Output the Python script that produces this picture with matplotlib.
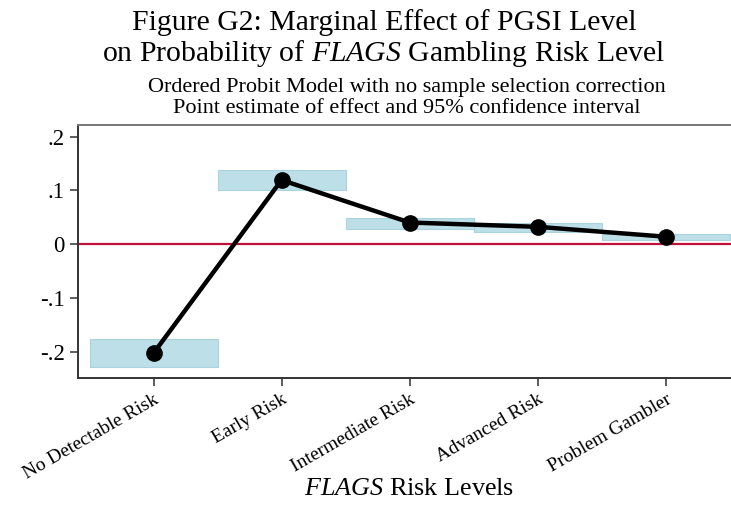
import matplotlib
matplotlib.use("Agg")
import matplotlib.pyplot as plt

# Marginal effects by FLAGS risk level, with 95% CI bounds
levels = ["No Detectable Risk", "Early Risk", "Intermediate Risk",
          "Advanced Risk", "Problem Gambler"]
effect = [-0.203, 0.119, 0.040, 0.032, 0.0136]
ci_low = [-0.229, 0.100, 0.028, 0.023, 0.0074]
ci_high = [-0.177, 0.138, 0.049, 0.040, 0.018]
yticks = [-0.2, -0.1, 0.0, 0.1, 0.2]
ytick_labels = ["-.2", "-.1", "0", ".1", ".2"]

plt.rcParams["font.family"] = "Liberation Serif"
plt.rcParams["mathtext.fontset"] = "custom"
plt.rcParams["mathtext.rm"] = "Liberation Serif"
plt.rcParams["mathtext.it"] = "Liberation Serif:italic"

fig = plt.figure(figsize=(7.31, 5.09), dpi=100)
ax = fig.add_axes([0.1067, 0.2567, 0.8933, 0.4977])

x = list(range(1, len(levels) + 1))
heights = [h - l for l, h in zip(ci_low, ci_high)]
ax.bar(x, heights, bottom=ci_low, width=1.0, color="#bcdfe8",
       edgecolor="#a8d3df", linewidth=0.8, zorder=1)
ax.axhline(0, color="#c0103c", linewidth=1.6, zorder=2)
ax.plot(x, effect, color="black", linewidth=3.2, marker="o",
        markersize=11, zorder=3)

ax.set_xlim(0.41, 5.51)
ax.set_ylim(-0.2499, 0.2214)
ax.set_yticks(yticks)
ax.set_yticklabels(ytick_labels, fontsize=16.5)
ax.set_xticks(x)
ax.set_xticklabels(levels, rotation=30, ha="right", rotation_mode="anchor",
                   fontsize=14)
ax.tick_params(axis="both", length=6, width=1.1, color="#333333")
ax.tick_params(axis="x", pad=3)

ax.spines["right"].set_visible(False)
ax.spines["top"].set_color("#777777")
ax.spines["top"].set_linewidth(1.4)
for s in ("left", "bottom"):
    ax.spines[s].set_color("#333333")
    ax.spines[s].set_linewidth(1.4)

fig.text(0.525, 0.941, "Figure G2: Marginal Effect of PGSI Level",
         ha="center", va="baseline", fontsize=21.4)
fig.text(0.525, 0.880, r"on Probability of $\it{FLAGS}$ Gambling Risk Level",
         ha="center", va="baseline", fontsize=21.4)
fig.text(0.557, 0.819, "Ordered Probit Model with no sample selection correction",
         ha="center", va="baseline", fontsize=16)
fig.text(0.557, 0.778, "Point estimate of effect and 95% confidence interval",
         ha="center", va="baseline", fontsize=16)
fig.text(0.560, 0.0275, r"$\it{FLAGS}$ Risk Levels", ha="center", va="baseline",
         fontsize=18.8)

fig.savefig("out.png", dpi=100)
